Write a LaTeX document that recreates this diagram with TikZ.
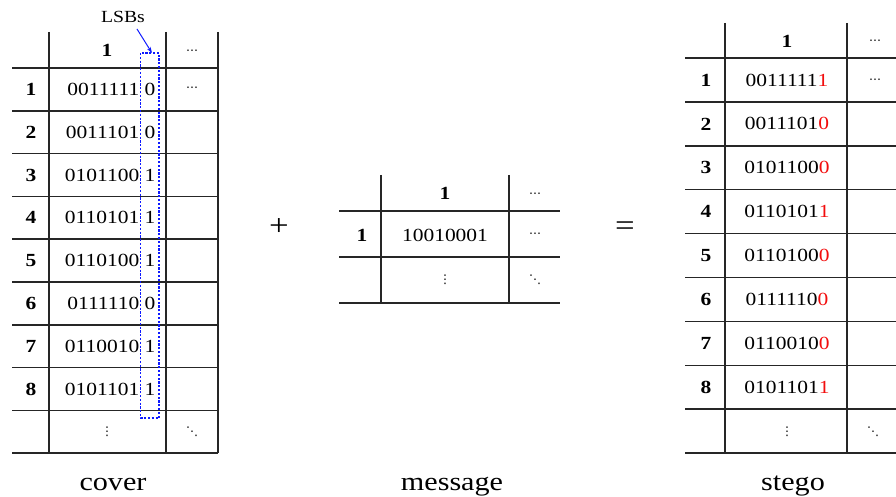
\documentclass[tikz,border=0pt]{standalone}
\usepackage{fontspec}
\setmainfont{Liberation Serif}[FakeStretch=1.16]
\newfontfamily\dotsfont{DejaVu Sans}
\usetikzlibrary{arrows.meta}
\definecolor{gridc}{gray}{0.15}
\definecolor{lsbblue}{rgb}{0.05,0.1,1}
\definecolor{bitred}{rgb}{0.95,0.05,0.05}
\tikzset{
  grid/.style={draw=gridc, line width=1.6pt},
  celltext/.style={inner sep=0pt, font=\fontsize{18.5}{20}\selectfont},
  rownum/.style={celltext, font=\fontsize{18.5}{20}\selectfont\bfseries},
  dotsy/.style={inner sep=0pt, font=\dotsfont\fontsize{12}{13}\selectfont},
  caption/.style={inner sep=0pt, anchor=base, font=\fontsize{26}{30}\selectfont},
  opsym/.style={inner sep=0pt, font=\fontsize{30}{32}\selectfont},
  lsbbox/.style={draw=lsbblue, line width=1.4pt, dash pattern=on 2.2pt off 1.6pt},
}
\begin{document}
\begin{tikzpicture}[x=1pt,y=-1pt]
\useasboundingbox (0,0) rectangle (896,497);
% ---------------- cover ----------------
\foreach \k in {0,...,9} {\draw[grid] (12,{68+42.8*\k}) -- (218,{68+42.8*\k});}
\foreach \x in {49,166,218} {\draw[grid] (\x,32) -- (\x,453);}
\node[rownum] (ch1) at (107,50) {1};
\node[dotsy] (chd) at (192,52) {⋯};
\node[dotsy] (c1d) at (192,89) {⋯};
\foreach \k/\a/\b in {1/0011111/0,2/0011101/0,3/0101100/1,4/0110101/1,5/0110100/1,6/0111110/0,7/0110010/1,8/0101101/1} {
  \node[rownum] (cr\k) at (31,{89.4+42.8*(\k-1)}) {\k};
  \node[celltext, anchor=east] (cv\k) at (139.5,{89.4+42.8*(\k-1)}) {\a};
  \node[celltext] (cl\k) at (150,{89.4+42.8*(\k-1)}) {\b};
}
\node[dotsy] (cvd) at (107,432) {⋮};
\node[dotsy] (cdd) at (192,432) {⋱};
\draw[lsbbox] (140.5,53) rectangle (159,418);
\coordinate (lsbtop) at (152,53);
\node[celltext, font=\fontsize{17}{18}\selectfont] (lsb) at (123,17) {LSBs};
\draw[draw=lsbblue, line width=1pt, -{Stealth[length=6pt,width=4pt]}] (137,29) -- (lsbtop);
\node[caption] (cover) at (113,490) {cover};
% ---------------- plus ----------------
\node[opsym] (plus) at (279,227) {+};
% ---------------- message ----------------
\foreach \y in {211,257,303} {\draw[grid] (339,\y) -- (560,\y);}
\foreach \x in {381,509} {\draw[grid] (\x,175) -- (\x,303);}
\node[rownum] (mh1) at (445,193) {1};
\node[dotsy] (mhd) at (535,195) {⋯};
\node[rownum] (mr1) at (362,235) {1};
\node[celltext] (mv1) at (445,235) {10010001};
\node[dotsy] (m1d) at (535,235) {⋯};
\node[dotsy] (mvd) at (445,280) {⋮};
\node[dotsy] (mdd) at (535,280) {⋱};
\node[caption] (message) at (452,490) {message};
% ---------------- equals ----------------
\node[opsym] (eq) at (625,229) {=};
% ---------------- stego ----------------
\foreach \k in {0,...,9} {\draw[grid] (685,{58+43.9*\k}) -- (896,{58+43.9*\k});}
\foreach \x in {725,847} {\draw[grid] (\x,23) -- (\x,453);}
\node[rownum] (sh1) at (787,41) {1};
\node[dotsy] (shd) at (875,42) {⋯};
\node[dotsy] (s1d) at (875,81) {⋯};
\foreach \k/\a/\b in {1/0011111/1,2/0011101/0,3/0101100/0,4/0110101/1,5/0110100/0,6/0111110/0,7/0110010/0,8/0101101/1} {
  \node[rownum] (sr\k) at (706,{80+43.9*(\k-1)}) {\k};
  \node[celltext] (sv\k) at (787,{80+43.9*(\k-1)}) {\a\textcolor{bitred}{\b}};
}
\node[dotsy] (svd) at (787,432) {⋮};
\node[dotsy] (sdd) at (873,432) {⋱};
\node[caption] (stego) at (793,490) {stego};
\end{tikzpicture}
\end{document}
